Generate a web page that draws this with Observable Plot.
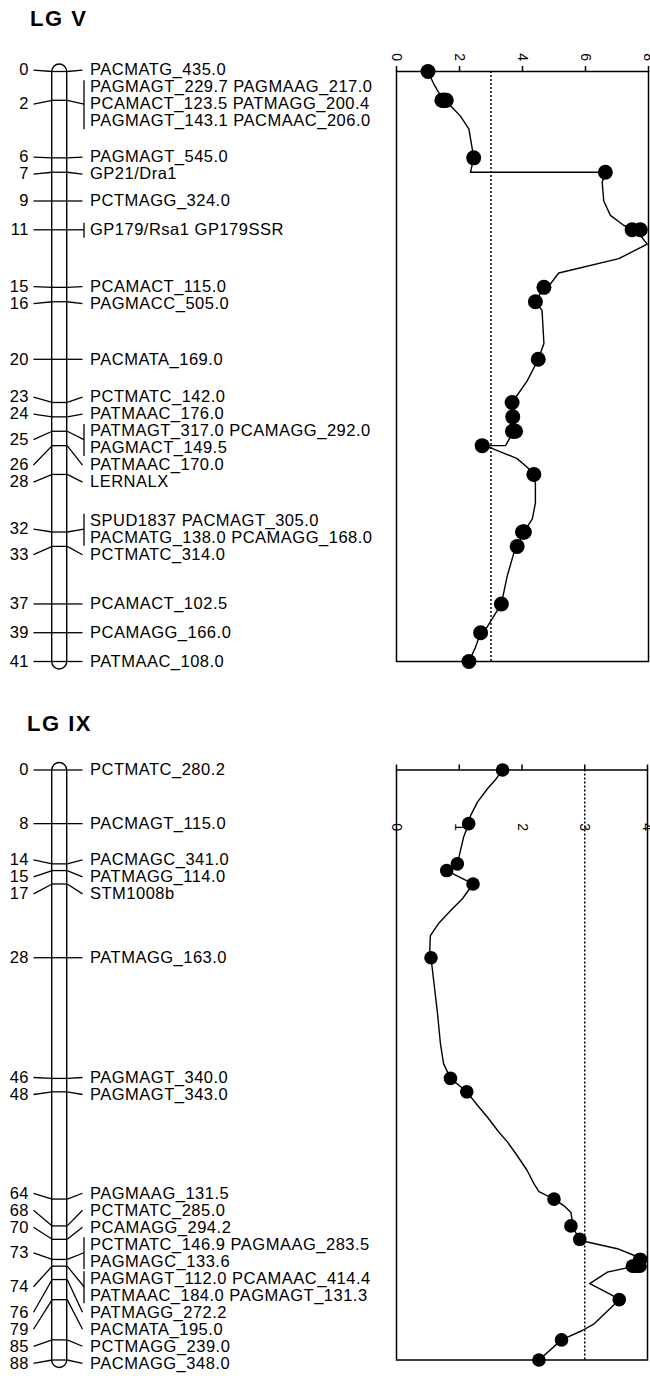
<!DOCTYPE html>
<html><head><meta charset="utf-8">
<script src="https://cdn.jsdelivr.net/npm/d3@7"></script>
<script src="https://cdn.jsdelivr.net/npm/@observablehq/plot@0.6"></script>
<style>
body{margin:0;background:#fff;}
#page{position:relative;width:650px;height:1376px;overflow:hidden;font-family:"Liberation Sans",Arial,sans-serif;color:#000;}
.title{position:absolute;font-weight:bold;font-size:22px;line-height:22px;letter-spacing:1.5px;white-space:nowrap;}
#page svg{position:absolute;}
</style></head><body><div id="page"></div>
<script>
// ---------------- DATA ----------------
// LG V
const LG_V_POSITIONS = [0, 2, 6, 7, 9, 11, 15, 16, 20, 23, 24, 25, 26, 28, 32, 33, 37, 39, 41];
const LG_V_MARKERS = [
  ["PACMATG_435.0"],
  ["PAGMAGT_229.7", "PAGMAAG_217.0", "PCAMACT_123.5", "PATMAGG_200.4", "PAGMAGT_143.1", "PACMAAC_206.0"],
  ["PAGMAGT_545.0"],
  ["GP21/Dra1"],
  ["PCTMAGG_324.0"],
  ["GP179/Rsa1", "GP179SSR"],
  ["PCAMACT_115.0"],
  ["PAGMACC_505.0"],
  ["PACMATA_169.0"],
  ["PCTMATC_142.0"],
  ["PATMAAC_176.0"],
  ["PATMAGT_317.0", "PCAMAGG_292.0", "PAGMACT_149.5"],
  ["PATMAAC_170.0"],
  ["LERNALX"],
  ["SPUD1837", "PACMAGT_305.0", "PACMATG_138.0", "PCAMAGG_168.0"],
  ["PCTMATC_314.0"],
  ["PCAMACT_102.5"],
  ["PCAMAGG_166.0"],
  ["PATMAAC_108.0"]
];
const LG_V_MARKER_LOD = [[1.0], [1.44, 1.47, 1.5, 1.52, 1.55, 1.58], [2.45], [6.63], [null], [7.48, 7.74],
  [4.68], [4.41], [4.50], [3.67], [3.69], [3.68, 3.73, 3.78], [2.72], [4.36], [4.0, 4.02, 4.04, 4.06],
  [3.83], [3.33], [2.67], [2.30]];
const LG_V_PROFILE = [[0,1.0],[0.9,1.19],[1.7,1.40],[2,1.5],[2.5,1.77],[3.1,2.03],[4.0,2.30],[5.3,2.40],[6,2.45],
  [6.5,2.40],[7,2.35],[7,6.63],[7.7,6.53],[9,6.58],[10,6.79],[10.7,7.22],[11,7.6],[12,7.96],[13,7.06],[14,5.15],
  [14.75,4.89],[15,4.68],[16,4.41],[16.6,4.62],[18.9,4.68],[20,4.50],[21.5,4.15],[23,3.67],[24,3.69],[25,3.72],
  [26,3.46],[26,2.72],[26.2,3.05],[26.9,3.83],[27.5,4.15],[28,4.36],[28.65,4.41],[30,4.41],[31.1,4.31],[32,4.04],
  [33,3.83],[33.5,3.72],[35.1,3.51],[37,3.33],[38.6,2.88],[39,2.67],[40,2.51],[41,2.30]];
const LG_V_LOD_TICKS = [0, 2, 4, 6, 8];
const LG_V_LOD_MAX = 8;
const LG_V_THRESHOLD = 3.0;
const LG_V_LENGTH = 41;

// LG IX
const LG_IX_POSITIONS = [0, 8, 14, 15, 17, 28, 46, 48, 64, 68, 70, 73, 74, 76, 79, 85, 88];
const LG_IX_MARKERS = [
  ["PCTMATC_280.2"],
  ["PACMAGT_115.0"],
  ["PACMAGC_341.0"],
  ["PATMAGG_114.0"],
  ["STM1008b"],
  ["PATMAGG_163.0"],
  ["PAGMAGT_340.0"],
  ["PAGMAGT_343.0"],
  ["PAGMAAG_131.5"],
  ["PCTMATC_285.0"],
  ["PCAMAGG_294.2"],
  ["PCTMATC_146.9", "PAGMAAG_283.5", "PAGMAGC_133.6"],
  ["PAGMAGT_112.0", "PCAMAAC_414.4", "PATMAAC_184.0", "PAGMAGT_131.3"],
  ["PATMAGG_272.2"],
  ["PACMATA_195.0"],
  ["PCTMAGG_239.0"],
  ["PACMAGG_348.0"]
];
const LG_IX_MARKER_LOD = [[1.69], [1.15], [0.97], [0.80], [1.22], [0.55], [0.86], [1.12], [2.51], [2.78], [2.92],
  [3.88, 3.88, 3.89], [3.76, 3.80, 3.84, 3.88], [null], [3.55], [2.63], [2.27]];
const LG_IX_PROFILE = [[0,1.69],[1.3,1.59],[2.8,1.45],[4.8,1.29],[6.8,1.18],[8,1.15],[10,1.07],[12,1.02],[14,0.97],
  [15,0.80],[17,1.22],[19.2,1.05],[21,0.86],[22.9,0.67],[24.7,0.54],[26.9,0.53],[28,0.55],[32,0.60],[36,0.65],
  [40.8,0.70],[43.8,0.75],[46,0.86],[48,1.12],[50,1.29],[51.8,1.45],[54,1.63],[55.5,1.77],[57.2,1.90],[59.7,2.08],
  [61.7,2.19],[62.9,2.27],[64,2.51],[65,2.67],[66,2.78],[67.2,2.80],[68,2.78],[68.9,2.85],[70,2.92],[70.4,3.04],
  [71.4,3.52],[72.6,3.84],[73,3.89],[74,3.80],[74.9,3.36],[76.6,3.08],[78.2,3.41],[79,3.55],[82.6,3.15],[83.6,2.96],
  [85,2.63],[88,2.27]];
const LG_IX_LOD_TICKS = [0, 1, 2, 3, 4];
const LG_IX_LOD_MAX = 4;
const LG_IX_THRESHOLD = 3.0;
const LG_IX_LENGTH = 88;

// ---------------- LAYOUT / STYLE ----------------
const MAP_X = {num: 28.5, lineStart: 33, chr1: 51.7, chr2: 66.7, lineEnd: 82, bracket: 83.5, label: 89.5};
const LINE_H = 17;
const FONT_SIZE = 16.5;
const FONT = '"Liberation Sans", Arial, Helvetica, sans-serif';
const page = document.getElementById("page");

function chunk(a, n) { const out = []; for (let i = 0; i < a.length; i += n) out.push(a.slice(i, i + n)); return out; }

function layoutLabels(groups, yScale) {
  const blocks = groups.map(g => ({g, t: yScale.apply(g.cm), h: g.lines.length * LINE_H}));
  const place = cl => {
    let off = 0; const tops = [];
    for (const b of cl.blocks) { b.off = off; tops.push(b.t - off - b.h / 2); off += b.h; }
    cl.h = off;
    cl.top = (tops[0] + d3.mean(tops)) / 2;
  };
  const clusters = [];
  for (const b of blocks) {
    const cl = {blocks: [b]}; place(cl); clusters.push(cl);
    while (clusters.length > 1) {
      const a = clusters[clusters.length - 2], c = clusters[clusters.length - 1];
      if (a.top + a.h <= c.top) break;
      clusters.splice(clusters.length - 2, 2);
      const m = {blocks: a.blocks.concat(c.blocks)}; place(m); clusters.push(m);
    }
  }
  for (const cl of clusters) for (const b of cl.blocks) {
    const g = b.g, c = cl.top + b.off + b.h / 2, n = g.lines.length;
    g.labelCm = yScale.invert(c);
    g.lineCms = g.lines.map((_, j) => yScale.invert(c + (j - (n - 1) / 2) * LINE_H));
    g.bracketTop = yScale.invert(c - (n - 1) / 2 * LINE_H - 7);
    g.bracketBottom = yScale.invert(c + (n - 1) / 2 * LINE_H + 8);
  }
}

function drawLG(cfg) {
  const {title, titleTop, titleLeft, positions, markers, lods, profile, ticks, lodMax, threshold, length,
         top, height, y0, y1, lodLeft, lodRight, tickDy, dotR} = cfg;
  const marginTop = y0 - top, marginBottom = top + height - y1;
  const yRange = [marginTop, height - marginBottom];
  const yScale = Plot.scale({y: {domain: [0, length], range: yRange}});

  const groups = positions.map((cm, i) => ({cm, names: markers[i], lines: chunk(markers[i], 2).map(a => a.join(" "))}));
  layoutLabels(groups, yScale);
  const lines = groups.flatMap(g => g.lines.map((text, j) => ({text, cm: g.lineCms[j]})));
  const multi = groups.filter(g => g.names.length > 1);
  const dots = positions.flatMap((cm, i) => lods[i].filter(v => v != null).map(lod => ({cm, lod})));

  const t = document.createElement("div");
  t.className = "title"; t.textContent = title;
  t.style.top = titleTop + "px"; t.style.left = titleLeft + "px";
  page.appendChild(t);

  const style = {fontFamily: FONT, letterSpacing: "0.5px", background: "transparent", color: "black", overflow: "visible"};

  const map = Plot.plot({
    width: 390, height, marginTop, marginBottom, marginLeft: 0, marginRight: 0,
    x: {domain: [0, 390], range: [0, 390], axis: null},
    y: {domain: [0, length], range: yRange, axis: null},
    style,
    marks: [
      Plot.rect([{a: 0, b: length}], {x1: MAP_X.chr1, x2: MAP_X.chr2, y1: "a", y2: "b",
        insetTop: -7, insetBottom: -8, rx: 7.5, fill: "white", stroke: "black", strokeWidth: 1.4}),
      Plot.ruleY(groups, {y: "cm", x1: MAP_X.chr1, x2: MAP_X.chr2, stroke: "black", strokeWidth: 1.3}),
      Plot.link(groups, {x1: MAP_X.lineStart, y1: "labelCm", x2: MAP_X.chr1, y2: "cm", stroke: "black", strokeWidth: 1.3}),
      Plot.link(groups, {x1: MAP_X.chr2, y1: "cm", x2: d => d.names.length > 1 ? MAP_X.bracket : MAP_X.lineEnd,
        y2: "labelCm", stroke: "black", strokeWidth: 1.3}),
      Plot.link(multi, {x1: MAP_X.bracket, x2: MAP_X.bracket, y1: "bracketTop", y2: "bracketBottom", stroke: "black", strokeWidth: 1.3}),
      Plot.text(groups, {x: MAP_X.num, y: "labelCm", text: d => String(d.cm), textAnchor: "end", fontSize: FONT_SIZE, fill: "black"}),
      Plot.text(lines, {x: MAP_X.label, y: "cm", text: "text", textAnchor: "start", fontSize: FONT_SIZE, fill: "black"})
    ]
  });
  map.style.left = "0px"; map.style.top = top + "px";
  page.appendChild(map);

  const lod = Plot.plot({
    width: 260, height, marginTop, marginBottom, marginLeft: lodLeft - 390, marginRight: 650 - lodRight,
    x: {domain: [0, lodMax], axis: null},
    y: {domain: [0, length], range: yRange, axis: null},
    style,
    marks: [
      Plot.frame({stroke: "black", strokeWidth: 1.5}),
      Plot.ruleX([threshold], {stroke: "black", strokeDasharray: "2,2", strokeWidth: 1.5}),
      Plot.axisX({ticks, anchor: "top", tickSize: 6, strokeWidth: 1.5, stroke: "black", fill: "none", label: null}),
      Plot.text(ticks, {x: d => d, text: d => String(d), frameAnchor: "top", dy: tickDy, rotate: 90,
        textAnchor: "middle", lineAnchor: "middle", fontSize: 14, fill: "black"}),
      Plot.line(profile, {x: d => d[1], y: d => d[0], stroke: "black", strokeWidth: 1.4}),
      Plot.dot(dots, {x: "lod", y: "cm", r: dotR, fill: "black"})
    ]
  });
  lod.style.left = "390px"; lod.style.top = top + "px";
  page.appendChild(lod);
}

drawLG({title: "LG V", titleTop: 7.5, titleLeft: 30, positions: LG_V_POSITIONS, markers: LG_V_MARKERS,
  lods: LG_V_MARKER_LOD, profile: LG_V_PROFILE, ticks: LG_V_LOD_TICKS, lodMax: LG_V_LOD_MAX,
  threshold: LG_V_THRESHOLD, length: LG_V_LENGTH, top: 0, height: 690, y0: 71, y1: 661,
  lodLeft: 396, lodRight: 648, tickDy: -14, dotR: 7.5});

drawLG({title: "LG IX", titleTop: 713, titleLeft: 27, positions: LG_IX_POSITIONS, markers: LG_IX_MARKERS,
  lods: LG_IX_MARKER_LOD, profile: LG_IX_PROFILE, ticks: LG_IX_LOD_TICKS, lodMax: LG_IX_LOD_MAX,
  threshold: LG_IX_THRESHOLD, length: LG_IX_LENGTH, top: 690, height: 686, y0: 769.5, y1: 1359.5,
  lodLeft: 396, lodRight: 647, tickDy: 57.5, dotR: 6.8});
</script></body></html>
